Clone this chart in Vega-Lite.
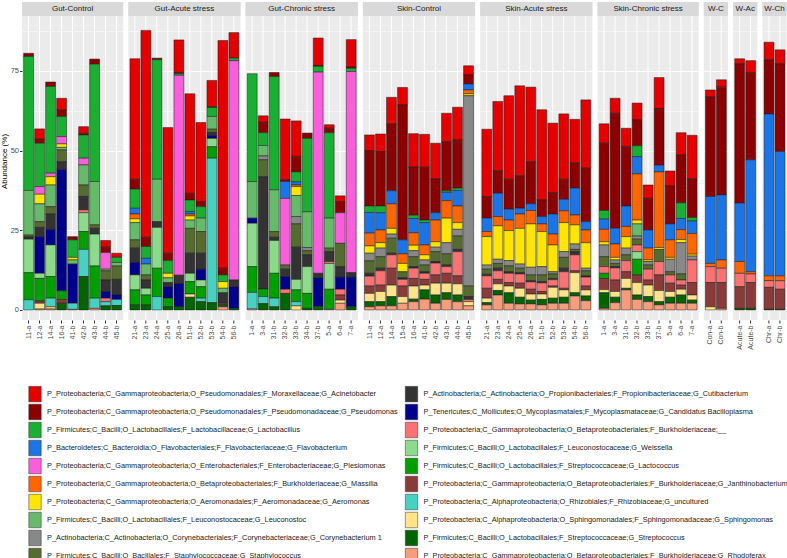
{
"$schema": "https://vega.github.io/schema/vega-lite/v6.json",
"padding": {"left": 0, "top": 2, "right": 0, "bottom": 0},
"datasets": {
"taxa": [
{"k":"Aci","r":1,"name":"P_Proteobacteria;C_Gammaproteobacteria;O_Pseudomonadales;F_Moraxellaceae;G_Acinetobacter"},
{"k":"Pse","r":2,"name":"P_Proteobacteria;C_Gammaproteobacteria;O_Pseudomonadales;F_Pseudomonadaceae;G_Pseudomonas"},
{"k":"Lac","r":3,"name":"P_Firmicutes;C_Bacilli;O_Lactobacillales;F_Lactobacillaceae;G_Lactobacillus"},
{"k":"Fla","r":4,"name":"P_Bacteroidetes;C_Bacteroidia;O_Flavobacteriales;F_Flavobacteriaceae;G_Flavobacterium"},
{"k":"Ple","r":5,"name":"P_Proteobacteria;C_Gammaproteobacteria;O_Enterobacteriales;F_Enterobacteriaceae;G_Plesiomonas"},
{"k":"Mas","r":6,"name":"P_Proteobacteria;C_Gammaproteobacteria;O_Betaproteobacteriales;F_Burkholderiaceae;G_Massilia"},
{"k":"Aer","r":7,"name":"P_Proteobacteria;C_Gammaproteobacteria;O_Aeromonadales;F_Aeromonadaceae;G_Aeromonas"},
{"k":"Leu","r":8,"name":"P_Firmicutes;C_Bacilli;O_Lactobacillales;F_Leuconostocaceae;G_Leuconostoc"},
{"k":"Cor","r":9,"name":"P_Actinobacteria;C_Actinobacteria;O_Corynebacteriales;F_Corynebacteriaceae;G_Corynebacterium 1"},
{"k":"Sta","r":10,"name":"P_Firmicutes;C_Bacilli;O_Bacillales;F_Staphylococcaceae;G_Staphylococcus"},
{"k":"Cut","r":11,"name":"P_Actinobacteria;C_Actinobacteria;O_Propionibacteriales;F_Propionibacteriaceae;G_Cutibacterium"},
{"k":"Cba","r":12,"name":"P_Tenericutes;C_Mollicutes;O_Mycoplasmatales;F_Mycoplasmataceae;G_Candidatus Bacilloplasma"},
{"k":"Bur","r":13,"name":"P_Proteobacteria;C_Gammaproteobacteria;O_Betaproteobacteriales;F_Burkholderiaceae;__"},
{"k":"Wei","r":14,"name":"P_Firmicutes;C_Bacilli;O_Lactobacillales;F_Leuconostocaceae;G_Weissella"},
{"k":"Lco","r":15,"name":"P_Firmicutes;C_Bacilli;O_Lactobacillales;F_Streptococcaceae;G_Lactococcus"},
{"k":"Jan","r":16,"name":"P_Proteobacteria;C_Gammaproteobacteria;O_Betaproteobacteriales;F_Burkholderiaceae;G_Janthinobacterium"},
{"k":"Rhi","r":17,"name":"P_Proteobacteria;C_Alphaproteobacteria;O_Rhizobiales;F_Rhizobiaceae;G_uncultured"},
{"k":"Sph","r":18,"name":"P_Proteobacteria;C_Alphaproteobacteria;O_Sphingomonadales;F_Sphingomonadaceae;G_Sphingomonas"},
{"k":"Str","r":19,"name":"P_Firmicutes;C_Bacilli;O_Lactobacillales;F_Streptococcaceae;G_Streptococcus"},
{"k":"Rho","r":20,"name":"P_Proteobacteria;C_Gammaproteobacteria;O_Betaproteobacteriales;F_Burkholderiaceae;G_Rhodoferax"}
],
"bars": [
{"p":"Gut-Control","s":"11-a","Rhi":3.2,"Lco":8.5,"Wei":10.5,"Cut":0.7,"Sta":0.6,"Leu":14,"Lac":42,"Pse":1.0},
{"p":"Gut-Control","s":"12-a","Rho":0.3,"Sph":1.8,"Jan":0.7,"Lco":7.1,"Wei":1.6,"Cba":11.5,"Cut":2.9,"Sta":1.8,"Leu":5.6,"Aer":3.0,"Ple":2.4,"Lac":13.6,"Pse":1.3,"Aci":3.2},
{"p":"Gut-Control","s":"14-a","Rho":0.3,"Sph":0.7,"Rhi":2.7,"Lco":6.8,"Wei":9.9,"Cba":4.9,"Cut":4.8,"Sta":2.3,"Leu":6.8,"Aer":2.6,"Ple":1.1,"Lac":27.2,"Pse":1.4},
{"p":"Gut-Control","s":"16-a","Str":2.1,"Jan":1.2,"Lco":2.7,"Cba":38.1,"Cut":2.4,"Sta":3.7,"Leu":0.8,"Aer":1.1,"Ple":2.3,"Lac":6.3,"Pse":2.1,"Aci":3.6},
{"p":"Gut-Control","s":"41-b","Rho":0.2,"Rhi":1.9,"Cba":12.3,"Leu":1.3,"Aer":0.8,"Lac":5.5,"Pse":1.0},
{"p":"Gut-Control","s":"42-b","Str":10.5,"Rhi":8.5,"Lco":5.6,"Wei":5.9,"Bur":0.9,"Cut":4.2,"Sta":3.6,"Leu":6.3,"Ple":2.1,"Lac":7.3,"Pse":0.5,"Aci":2.1},
{"p":"Gut-Control","s":"43-b","Rho":0.5,"Rhi":3.2,"Lco":10.1,"Wei":10.0,"Cut":1.8,"Sta":1.1,"Leu":13.6,"Lac":36.8,"Pse":1.6},
{"p":"Gut-Control","s":"44-b","Str":1.3,"Rhi":1.3,"Bur":1.1,"Cba":2.1,"Cut":3.6,"Sta":2.9,"Leu":0.5,"Ple":5.2,"Pse":1.7,"Aci":2.1},
{"p":"Gut-Control","s":"45-b","Str":1.4,"Rhi":1.9,"Cba":1.4,"Cut":4.9,"Sta":4.2,"Leu":1.1,"Lac":1.6,"Aci":1.3},
{"p":"Gut-Acute stress","s":"21-a","Str":1.6,"Lco":4.7,"Wei":4.7,"Cba":3.9,"Cut":4.5,"Sta":2.6,"Leu":5.4,"Aer":1.2,"Mas":1.5,"Fla":1.8,"Lac":6.0,"Pse":3.1,"Aci":37.8},
{"p":"Gut-Acute stress","s":"23-a","Str":1.6,"Lco":3.1,"Wei":2.1,"Cut":2.6,"Sta":1.6,"Leu":3.4,"Fla":1.8,"Lac":3.7,"Pse":2.9,"Aci":64.9},
{"p":"Gut-Acute stress","s":"24-a","Rhi":4.2,"Lco":8.9,"Wei":12.8,"Cut":1.8,"Leu":13.3,"Lac":37.5,"Pse":0.5},
{"p":"Gut-Acute stress","s":"25-a","Str":1.0,"Lco":2.7,"Cba":3.6,"Cut":1.3,"Leu":1.5,"Aer":1.4,"Lac":4.0,"Pse":2.3,"Aci":39.4},
{"p":"Gut-Acute stress","s":"26-a","Str":1.0,"Cba":7.3,"Cut":2.6,"Ple":62.7,"Lac":0.5,"Pse":0.4,"Aci":10.2},
{"p":"Gut-Acute stress","s":"51-b","Str":4.0,"Sph":1.0,"Lco":3.9,"Wei":2.6,"Cut":6.3,"Sta":7.8,"Leu":2.6,"Aer":1.3,"Mas":0.6,"Fla":0.8,"Lac":3.6,"Pse":2.1,"Aci":31.2},
{"p":"Gut-Acute stress","s":"52-b","Str":2.6,"Rhi":1.1,"Lco":3.6,"Wei":2.1,"Cba":3.4,"Cut":5.0,"Sta":6.8,"Leu":4.2,"Lac":3.6,"Pse":1.6,"Aci":24.8},
{"p":"Gut-Acute stress","s":"53-b","Str":2.3,"Rhi":45.3,"Lco":3.6,"Wei":2.6,"Cba":0.9,"Cut":1.0,"Sta":1.0,"Leu":4.0,"Lac":2.8,"Pse":0.3,"Aci":8.2},
{"p":"Gut-Acute stress","s":"54-b","Rho":1.0,"Str":0.6,"Jan":0.5,"Cut":3.3,"Leu":1.4,"Aer":2.1,"Lac":2.1,"Pse":2.1,"Aci":71.4},
{"p":"Gut-Acute stress","s":"56-b","Str":0.5,"Cba":6.8,"Cut":2.1,"Ple":68.8,"Lac":0.8,"Aci":8.0},
{"p":"Gut-Chronic stress","s":"1-a","Rho":0.3,"Rhi":5.2,"Lco":8.1,"Wei":13.6,"Cba":1.6,"Leu":11.5,"Lac":33.8},
{"p":"Gut-Chronic stress","s":"3-a","Str":2.0,"Rhi":2.2,"Lco":2.4,"Cut":35.2,"Sta":5.3,"Cor":1.2,"Leu":3.3,"Lac":4.0,"Pse":3.3,"Aci":2.0},
{"p":"Gut-Chronic stress","s":"31-b","Str":1.0,"Rhi":2.7,"Lco":7.8,"Wei":10.3,"Cut":1.0,"Sta":1.8,"Leu":13.1,"Lac":35.5,"Pse":1.3},
{"p":"Gut-Chronic stress","s":"32-b","Str":5.2,"Bur":1.3,"Cba":4.0,"Cut":2.3,"Sta":1.3,"Ple":20.9,"Fla":5.3,"Pse":0.5,"Aci":19.1},
{"p":"Gut-Chronic stress","s":"33-b","Sph":1.3,"Rhi":1.3,"Lco":3.7,"Wei":3.3,"Cut":10.1,"Sta":7.3,"Cor":2.3,"Leu":6.6,"Aer":2.8,"Mas":0.5,"Fla":1.0,"Lac":3.1,"Pse":4.9,"Aci":11.1},
{"p":"Gut-Chronic stress","s":"34-b","Str":0.5,"Lco":4.7,"Wei":8.4,"Cut":3.7,"Sta":1.3,"Cor":1.0,"Leu":11.2,"Lac":23.0,"Pse":1.7},
{"p":"Gut-Chronic stress","s":"37-b","Str":1.1,"Cba":9.0,"Cut":1.4,"Ple":63.1,"Lac":1.8,"Pse":0.3,"Aci":8.6},
{"p":"Gut-Chronic stress","s":"5-a","Rho":0.2,"Lco":6.3,"Wei":8.1,"Bur":0.6,"Cut":3.1,"Sta":1.1,"Leu":9.4,"Lac":26.8,"Pse":1.4,"Aci":1.1},
{"p":"Gut-Chronic stress","s":"6-a","Rho":2.1,"Sph":1.0,"Jan":1.6,"Bur":1.8,"Cba":3.8,"Cut":3.3,"Sta":7.3,"Ple":9.6,"Pse":3.5,"Aci":1.8},
{"p":"Gut-Chronic stress","s":"7-a","Str":1.0,"Cba":9.3,"Cut":1.4,"Ple":63.1,"Lac":1.0,"Pse":0.5,"Aci":8.5},
{"p":"Skin-Control","s":"11-a","Rho":1.0,"Str":1.6,"Sph":2.6,"Jan":2.3,"Bur":3.1,"Cut":0.9,"Sta":3.9,"Cor":2.4,"Aer":2.3,"Mas":4.0,"Fla":6.5,"Lac":2.0,"Pse":17.4,"Aci":4.9},
{"p":"Skin-Control","s":"12-a","Rho":1.3,"Str":1.3,"Sph":3.2,"Jan":2.0,"Bur":4.5,"Cut":0.8,"Sta":3.6,"Cor":2.7,"Aer":1.7,"Mas":4.0,"Fla":5.4,"Lac":2.1,"Pse":17.1,"Aci":5.5},
{"p":"Skin-Control","s":"14-a","Rho":1.3,"Str":2.9,"Sph":3.6,"Jan":5.3,"Bur":4.2,"Cut":0.5,"Sta":4.7,"Cor":1.3,"Aer":1.8,"Mas":7.7,"Fla":4.1,"Pse":21.0,"Aci":8.3},
{"p":"Skin-Control","s":"15-a","Rho":2.1,"Sph":2.1,"Jan":3.3,"Bur":2.1,"Cut":0.5,"Sta":1.9,"Aer":2.6,"Mas":3.0,"Fla":4.4,"Pse":42.3,"Aci":5.5},
{"p":"Skin-Control","s":"16-a","Rho":2.6,"Str":0.8,"Sph":4.1,"Jan":2.4,"Bur":3.2,"Cut":0.5,"Sta":3.1,"Cor":1.9,"Aer":1.7,"Mas":3.9,"Fla":4.5,"Lac":1.0,"Pse":15.2,"Aci":10.4},
{"p":"Skin-Control","s":"41-b","Rho":3.4,"Str":2.9,"Sph":1.5,"Jan":1.8,"Bur":1.9,"Cut":0.5,"Sta":2.1,"Cor":1.6,"Aer":1.6,"Mas":3.1,"Fla":7.0,"Lac":0.8,"Pse":16.6,"Aci":10.3},
{"p":"Skin-Control","s":"42-b","Rho":2.1,"Str":2.6,"Sph":3.7,"Jan":2.6,"Bur":3.7,"Cut":0.5,"Sta":3.1,"Cor":1.4,"Aer":1.7,"Mas":6.8,"Fla":2.3,"Pse":10.6,"Aci":11.2},
{"p":"Skin-Control","s":"43-b","Rho":3.3,"Str":2.1,"Sph":3.0,"Jan":3.1,"Bur":2.1,"Cut":0.5,"Sta":3.5,"Cor":3.5,"Aer":7.7,"Mas":5.5,"Fla":2.6,"Lac":0.5,"Pse":15.4,"Aci":8.9},
{"p":"Skin-Control","s":"44-b","Rho":2.6,"Str":2.1,"Sph":3.5,"Jan":2.5,"Bur":7.6,"Cut":0.7,"Sta":4.2,"Cor":2.1,"Aer":2.1,"Mas":5.2,"Fla":4.9,"Lac":0.7,"Pse":15.1,"Aci":10.3},
{"p":"Skin-Control","s":"45-b","Rho":1.3,"Sph":1.3,"Bur":0.7,"Cut":0.9,"Sta":3.3,"Cor":59.7,"Aer":0.6,"Mas":1.2,"Fla":1.9,"Pse":2.8,"Aci":2.9},
{"p":"Skin-Acute stress","s":"21-a","Rho":1.6,"Str":0.7,"Sph":1.4,"Jan":3.1,"Bur":3.9,"Cut":0.5,"Sta":1.6,"Cor":1.3,"Aer":8.9,"Mas":1.6,"Fla":4.2,"Pse":6.8,"Aci":21.1},
{"p":"Skin-Acute stress","s":"23-a","Rho":4.7,"Str":1.4,"Sph":2.1,"Jan":1.4,"Bur":2.7,"Cut":0.8,"Sta":1.5,"Cor":1.3,"Aer":10.5,"Mas":2.9,"Fla":7.3,"Pse":7.1,"Aci":21.7},
{"p":"Skin-Acute stress","s":"24-a","Rho":2.1,"Str":3.3,"Sph":2.1,"Jan":1.1,"Bur":2.9,"Cut":0.5,"Sta":1.8,"Cor":1.7,"Aer":9.4,"Mas":3.3,"Fla":3.4,"Pse":9.4,"Aci":26.2},
{"p":"Skin-Acute stress","s":"25-a","Rho":1.9,"Str":2.1,"Sph":2.8,"Jan":1.6,"Bur":2.9,"Cut":0.4,"Sta":1.4,"Cor":1.3,"Aer":11.2,"Mas":4.5,"Fla":1.8,"Pse":10.2,"Aci":28.2},
{"p":"Skin-Acute stress","s":"26-a","Rho":1.9,"Str":1.2,"Sph":1.9,"Jan":1.5,"Bur":2.3,"Cut":0.4,"Sta":1.8,"Cor":2.4,"Aer":13.6,"Mas":4.2,"Fla":2.1,"Pse":13.2,"Aci":23.4},
{"p":"Skin-Acute stress","s":"51-b","Rho":1.6,"Str":1.7,"Sph":1.7,"Jan":0.8,"Bur":2.7,"Cut":0.4,"Sta":2.1,"Cor":2.6,"Aer":11.0,"Mas":2.4,"Fla":2.3,"Pse":5.2,"Aci":28.3},
{"p":"Skin-Acute stress","s":"52-b","Rho":2.1,"Str":1.6,"Sph":3.4,"Jan":0.4,"Bur":2.0,"Cut":0.4,"Sta":1.4,"Cor":0.7,"Aer":8.4,"Mas":3.4,"Fla":6.3,"Pse":6.7,"Aci":21.8},
{"p":"Skin-Acute stress","s":"53-b","Rho":2.1,"Str":1.9,"Sph":2.3,"Jan":0.5,"Bur":5.2,"Cut":1.1,"Sta":3.4,"Cor":1.8,"Aer":9.1,"Mas":3.7,"Fla":3.6,"Pse":6.3,"Aci":20.5},
{"p":"Skin-Acute stress","s":"54-b","Rho":4.4,"Str":1.0,"Sph":6.3,"Jan":0.6,"Bur":5.0,"Cut":1.0,"Sta":0.7,"Cor":1.7,"Aer":6.0,"Mas":3.1,"Fla":8.4,"Pse":8.0,"Aci":13.6},
{"p":"Skin-Acute stress","s":"56-b","Rho":2.9,"Str":1.5,"Sph":1.9,"Jan":1.2,"Bur":2.8,"Cut":0.4,"Sta":1.6,"Cor":0.8,"Aer":8.0,"Mas":4.0,"Fla":2.6,"Pse":16.8,"Aci":21.4},
{"p":"Skin-Chronic stress","s":"1-a","Rho":0.5,"Str":4.9,"Sph":1.0,"Jan":3.5,"Lco":1.6,"Bur":2.1,"Sta":3.1,"Cor":3.7,"Aer":1.0,"Mas":3.9,"Fla":3.2,"Lac":2.7,"Pse":21.1,"Aci":6.1},
{"p":"Skin-Chronic stress","s":"3-a","Rho":2.3,"Str":1.7,"Sph":1.8,"Jan":3.6,"Bur":3.8,"Cut":0.4,"Sta":1.0,"Cor":1.1,"Aer":0.8,"Mas":4.2,"Fla":4.9,"Pse":36.1,"Aci":4.7},
{"p":"Skin-Chronic stress","s":"31-b","Rho":6.3,"Str":0.5,"Sph":3.1,"Jan":2.1,"Bur":3.5,"Sta":1.8,"Cor":2.1,"Aer":3.6,"Mas":3.2,"Fla":6.4,"Pse":18.7,"Aci":5.7},
{"p":"Skin-Chronic stress","s":"32-b","Rho":3.3,"Str":1.4,"Sph":3.9,"Jan":2.4,"Lco":4.9,"Wei":2.4,"Bur":2.1,"Sta":1.8,"Cor":1.0,"Leu":3.8,"Aer":1.2,"Mas":14.5,"Fla":5.4,"Lac":3.4,"Pse":8.1,"Aci":5.3},
{"p":"Skin-Chronic stress","s":"33-b","Rho":2.6,"Str":1.6,"Sph":3.6,"Jan":1.6,"Bur":3.4,"Sta":1.3,"Cor":1.1,"Aer":0.5,"Mas":3.7,"Fla":5.7,"Pse":9.9,"Aci":4.2},
{"p":"Skin-Chronic stress","s":"37-b","Rho":1.6,"Str":1.0,"Sph":3.5,"Jan":4.9,"Bur":4.2,"Sta":3.8,"Aer":0.6,"Mas":23.7,"Fla":2.1,"Pse":17.8,"Aci":9.7},
{"p":"Skin-Chronic stress","s":"5-a","Rho":2.1,"Str":1.9,"Sph":1.8,"Jan":2.6,"Bur":2.6,"Sta":1.0,"Cor":3.9,"Aer":0.6,"Mas":5.5,"Fla":5.0,"Pse":11.9,"Aci":4.7},
{"p":"Skin-Chronic stress","s":"6-a","Rho":2.1,"Str":2.6,"Sph":1.8,"Jan":1.3,"Bur":1.6,"Sta":1.9,"Cor":9.8,"Aer":1.0,"Mas":3.1,"Fla":3.5,"Lac":4.9,"Pse":15.0,"Aci":7.0},
{"p":"Skin-Chronic stress","s":"7-a","Rho":2.1,"Str":1.0,"Sph":1.6,"Jan":3.9,"Bur":7.1,"Cor":1.2,"Aer":0.6,"Mas":6.5,"Fla":3.9,"Lac":1.1,"Pse":12.2,"Aci":13.6},
{"p":"W-C","s":"Con-a","Sph":1.0,"Jan":7.6,"Bur":5.0,"Mas":1.0,"Fla":21.0,"Pse":31.3,"Aci":2.1},
{"p":"W-C","s":"Con-b","Rho":0.5,"Jan":8.1,"Bur":4.5,"Mas":2.6,"Fla":20.4,"Pse":33.8,"Aci":2.3},
{"p":"W-Ac","s":"Acute-a","Str":0.5,"Jan":6.8,"Bur":4.2,"Mas":3.7,"Fla":18.3,"Pse":43.7,"Aci":1.6},
{"p":"W-Ac","s":"Acute-b","Str":0.5,"Jan":8.1,"Bur":2.7,"Mas":0.7,"Fla":35.1,"Pse":27.4,"Aci":3.7},
{"p":"W-Ch","s":"Chr-a","Str":0.2,"Jan":6.9,"Bur":2.1,"Mas":1.5,"Fla":50.8,"Pse":17.0,"Aci":5.5},
{"p":"W-Ch","s":"Chr-b","Str":0.2,"Jan":6.3,"Bur":2.7,"Mas":1.5,"Fla":39.0,"Pse":27.5,"Aci":4.4}
]
},
"data": {"name": "bars"},
"transform": [
{"fold": ["Aci","Pse","Lac","Fla","Ple","Mas","Aer","Leu","Cor","Sta","Cut","Cba","Bur","Wei","Lco","Jan","Rhi","Sph","Str","Rho"], "as": ["k","v"]},
{"filter": "isValid(datum.v) && datum.v > 0"},
{"lookup": "k", "from": {"data": {"name": "taxa"}, "key": "k", "fields": ["name","r"]}}
],
"spacing": 4.3,
"resolve": {"scale": {"x": "independent", "y": "independent"}, "axis": {"x": "independent", "y": "independent"}},
"hconcat": [
{"width": 101.2, "height": 318, "transform": [{"filter": "datum.p === 'Gut-Control'"}], "layer": [
 {"mark": {"type": "bar", "stroke": "#1a1a1a", "strokeWidth": 0.5}, "encoding": {
  "x": {"field": "s", "type": "nominal", "scale": {"paddingInner": 0.1, "paddingOuter": 0.15}},
  "y": {"field": "v", "type": "quantitative", "stack": "zero", "scale": {"domain": [-3.14, 96.6], "nice": false, "zero": false},
        "axis": {"title": "Abundance (%)", "titleFontSize": 8, "titleFontWeight": "normal", "titleColor": "#000000", "titlePadding": 2,
                 "values": [0,12.5,25,37.5,50,62.5,75,87.5], "labelExpr": "datum.value % 25 === 0 ? datum.label : ''",
                 "labelFontSize": 7.5, "labelColor": "#4D4D4D", "labelPadding": 1, "tickColor": "#333333", "tickSize": 2.5,
                 "tickOpacity": {"condition": {"test": "datum.value % 25 === 0", "value": 1}, "value": 0},
                 "domain": false, "grid": true, "gridColor": "#FFFFFF",
                 "gridWidth": {"condition": {"test": "datum.value % 25 === 0", "value": 1.1}, "value": 0.5}}},
  "color": {"field": "name", "type": "nominal",
   "scale": {
    "domain": [
"P_Proteobacteria;C_Gammaproteobacteria;O_Pseudomonadales;F_Moraxellaceae;G_Acinetobacter",
"P_Proteobacteria;C_Gammaproteobacteria;O_Pseudomonadales;F_Pseudomonadaceae;G_Pseudomonas",
"P_Firmicutes;C_Bacilli;O_Lactobacillales;F_Lactobacillaceae;G_Lactobacillus",
"P_Bacteroidetes;C_Bacteroidia;O_Flavobacteriales;F_Flavobacteriaceae;G_Flavobacterium",
"P_Proteobacteria;C_Gammaproteobacteria;O_Enterobacteriales;F_Enterobacteriaceae;G_Plesiomonas",
"P_Proteobacteria;C_Gammaproteobacteria;O_Betaproteobacteriales;F_Burkholderiaceae;G_Massilia",
"P_Proteobacteria;C_Gammaproteobacteria;O_Aeromonadales;F_Aeromonadaceae;G_Aeromonas",
"P_Firmicutes;C_Bacilli;O_Lactobacillales;F_Leuconostocaceae;G_Leuconostoc",
"P_Actinobacteria;C_Actinobacteria;O_Corynebacteriales;F_Corynebacteriaceae;G_Corynebacterium 1",
"P_Firmicutes;C_Bacilli;O_Bacillales;F_Staphylococcaceae;G_Staphylococcus",
"P_Actinobacteria;C_Actinobacteria;O_Propionibacteriales;F_Propionibacteriaceae;G_Cutibacterium",
"P_Tenericutes;C_Mollicutes;O_Mycoplasmatales;F_Mycoplasmataceae;G_Candidatus Bacilloplasma",
"P_Proteobacteria;C_Gammaproteobacteria;O_Betaproteobacteriales;F_Burkholderiaceae;__",
"P_Firmicutes;C_Bacilli;O_Lactobacillales;F_Leuconostocaceae;G_Weissella",
"P_Firmicutes;C_Bacilli;O_Lactobacillales;F_Streptococcaceae;G_Lactococcus",
"P_Proteobacteria;C_Gammaproteobacteria;O_Betaproteobacteriales;F_Burkholderiaceae;G_Janthinobacterium",
"P_Proteobacteria;C_Alphaproteobacteria;O_Rhizobiales;F_Rhizobiaceae;G_uncultured",
"P_Proteobacteria;C_Alphaproteobacteria;O_Sphingomonadales;F_Sphingomonadaceae;G_Sphingomonas",
"P_Firmicutes;C_Bacilli;O_Lactobacillales;F_Streptococcaceae;G_Streptococcus",
"P_Proteobacteria;C_Gammaproteobacteria;O_Betaproteobacteriales;F_Burkholderiaceae;G_Rhodoferax"
    ],
    "range": ["#E50000","#8B0000","#1AAF32","#1C75E6","#FA5FDB","#FF6600","#FFE500","#66BB6A","#888888","#556B2F","#333333","#00008B","#FA7272","#8BDB8B","#00A000","#8B3A3A","#48D1C1","#FFE38A","#006400","#F89C7C"]}},
  "order": {"field": "r", "type": "quantitative", "sort": "descending"}}},
 {"transform": [{"aggregate": [{"op": "count", "as": "n"}], "groupby": ["p"]}], "mark": {"type": "rect", "fill": "#D9D9D9"}, "encoding": {"y": {"datum": 92.2}, "y2": {"datum": 96.6}}},
 {"transform": [{"aggregate": [{"op": "count", "as": "n"}], "groupby": ["p"]}], "mark": {"type": "text", "fontSize": 8, "color": "#1A1A1A"}, "encoding": {"y": {"datum": 94.4}, "text": {"field": "p"}}}
]},
{"width": 112.2, "height": 318, "transform": [{"filter": "datum.p === 'Gut-Acute stress'"}], "layer": [
 {"mark": {"type": "bar", "stroke": "#1a1a1a", "strokeWidth": 0.5}, "encoding": {
  "x": {"field": "s", "type": "nominal", "scale": {"paddingInner": 0.1, "paddingOuter": 0.15}},
  "y": {"field": "v", "type": "quantitative", "stack": "zero", "scale": {"domain": [-3.14, 96.6], "nice": false, "zero": false},
        "axis": {"title": null, "labels": false, "ticks": false, "domain": false, "values": [0,12.5,25,37.5,50,62.5,75,87.5], "grid": true, "gridColor": "#FFFFFF",
                 "gridWidth": {"condition": {"test": "datum.value % 25 === 0", "value": 1.1}, "value": 0.5}}},
  "color": {"field": "name", "type": "nominal"},
  "order": {"field": "r", "type": "quantitative", "sort": "descending"}}},
 {"transform": [{"aggregate": [{"op": "count", "as": "n"}], "groupby": ["p"]}], "mark": {"type": "rect", "fill": "#D9D9D9"}, "encoding": {"y": {"datum": 92.2}, "y2": {"datum": 96.6}}},
 {"transform": [{"aggregate": [{"op": "count", "as": "n"}], "groupby": ["p"]}], "mark": {"type": "text", "fontSize": 8, "color": "#1A1A1A"}, "encoding": {"y": {"datum": 94.4}, "text": {"field": "p"}}}
]},
{"width": 112.2, "height": 318, "transform": [{"filter": "datum.p === 'Gut-Chronic stress'"}], "layer": [
 {"mark": {"type": "bar", "stroke": "#1a1a1a", "strokeWidth": 0.5}, "encoding": {
  "x": {"field": "s", "type": "nominal", "scale": {"paddingInner": 0.1, "paddingOuter": 0.15}},
  "y": {"field": "v", "type": "quantitative", "stack": "zero", "scale": {"domain": [-3.14, 96.6], "nice": false, "zero": false},
        "axis": {"title": null, "labels": false, "ticks": false, "domain": false, "values": [0,12.5,25,37.5,50,62.5,75,87.5], "grid": true, "gridColor": "#FFFFFF",
                 "gridWidth": {"condition": {"test": "datum.value % 25 === 0", "value": 1.1}, "value": 0.5}}},
  "color": {"field": "name", "type": "nominal"},
  "order": {"field": "r", "type": "quantitative", "sort": "descending"}}},
 {"transform": [{"aggregate": [{"op": "count", "as": "n"}], "groupby": ["p"]}], "mark": {"type": "rect", "fill": "#D9D9D9"}, "encoding": {"y": {"datum": 92.2}, "y2": {"datum": 96.6}}},
 {"transform": [{"aggregate": [{"op": "count", "as": "n"}], "groupby": ["p"]}], "mark": {"type": "text", "fontSize": 8, "color": "#1A1A1A"}, "encoding": {"y": {"datum": 94.4}, "text": {"field": "p"}}}
]},
{"width": 112.2, "height": 318, "transform": [{"filter": "datum.p === 'Skin-Control'"}], "layer": [
 {"mark": {"type": "bar", "stroke": "#1a1a1a", "strokeWidth": 0.5}, "encoding": {
  "x": {"field": "s", "type": "nominal", "scale": {"paddingInner": 0.1, "paddingOuter": 0.15}},
  "y": {"field": "v", "type": "quantitative", "stack": "zero", "scale": {"domain": [-3.14, 96.6], "nice": false, "zero": false},
        "axis": {"title": null, "labels": false, "ticks": false, "domain": false, "values": [0,12.5,25,37.5,50,62.5,75,87.5], "grid": true, "gridColor": "#FFFFFF",
                 "gridWidth": {"condition": {"test": "datum.value % 25 === 0", "value": 1.1}, "value": 0.5}}},
  "color": {"field": "name", "type": "nominal"},
  "order": {"field": "r", "type": "quantitative", "sort": "descending"}}},
 {"transform": [{"aggregate": [{"op": "count", "as": "n"}], "groupby": ["p"]}], "mark": {"type": "rect", "fill": "#D9D9D9"}, "encoding": {"y": {"datum": 92.2}, "y2": {"datum": 96.6}}},
 {"transform": [{"aggregate": [{"op": "count", "as": "n"}], "groupby": ["p"]}], "mark": {"type": "text", "fontSize": 8, "color": "#1A1A1A"}, "encoding": {"y": {"datum": 94.4}, "text": {"field": "p"}}}
]},
{"width": 112.2, "height": 318, "transform": [{"filter": "datum.p === 'Skin-Acute stress'"}], "layer": [
 {"mark": {"type": "bar", "stroke": "#1a1a1a", "strokeWidth": 0.5}, "encoding": {
  "x": {"field": "s", "type": "nominal", "scale": {"paddingInner": 0.1, "paddingOuter": 0.15}},
  "y": {"field": "v", "type": "quantitative", "stack": "zero", "scale": {"domain": [-3.14, 96.6], "nice": false, "zero": false},
        "axis": {"title": null, "labels": false, "ticks": false, "domain": false, "values": [0,12.5,25,37.5,50,62.5,75,87.5], "grid": true, "gridColor": "#FFFFFF",
                 "gridWidth": {"condition": {"test": "datum.value % 25 === 0", "value": 1.1}, "value": 0.5}}},
  "color": {"field": "name", "type": "nominal"},
  "order": {"field": "r", "type": "quantitative", "sort": "descending"}}},
 {"transform": [{"aggregate": [{"op": "count", "as": "n"}], "groupby": ["p"]}], "mark": {"type": "rect", "fill": "#D9D9D9"}, "encoding": {"y": {"datum": 92.2}, "y2": {"datum": 96.6}}},
 {"transform": [{"aggregate": [{"op": "count", "as": "n"}], "groupby": ["p"]}], "mark": {"type": "text", "fontSize": 8, "color": "#1A1A1A"}, "encoding": {"y": {"datum": 94.4}, "text": {"field": "p"}}}
]},
{"width": 101.2, "height": 318, "transform": [{"filter": "datum.p === 'Skin-Chronic stress'"}], "layer": [
 {"mark": {"type": "bar", "stroke": "#1a1a1a", "strokeWidth": 0.5}, "encoding": {
  "x": {"field": "s", "type": "nominal", "scale": {"paddingInner": 0.1, "paddingOuter": 0.15}},
  "y": {"field": "v", "type": "quantitative", "stack": "zero", "scale": {"domain": [-3.14, 96.6], "nice": false, "zero": false},
        "axis": {"title": null, "labels": false, "ticks": false, "domain": false, "values": [0,12.5,25,37.5,50,62.5,75,87.5], "grid": true, "gridColor": "#FFFFFF",
                 "gridWidth": {"condition": {"test": "datum.value % 25 === 0", "value": 1.1}, "value": 0.5}}},
  "color": {"field": "name", "type": "nominal"},
  "order": {"field": "r", "type": "quantitative", "sort": "descending"}}},
 {"transform": [{"aggregate": [{"op": "count", "as": "n"}], "groupby": ["p"]}], "mark": {"type": "rect", "fill": "#D9D9D9"}, "encoding": {"y": {"datum": 92.2}, "y2": {"datum": 96.6}}},
 {"transform": [{"aggregate": [{"op": "count", "as": "n"}], "groupby": ["p"]}], "mark": {"type": "text", "fontSize": 8, "color": "#1A1A1A"}, "encoding": {"y": {"datum": 94.4}, "text": {"field": "p"}}}
]},
{"width": 24.2, "height": 318, "transform": [{"filter": "datum.p === 'W-C'"}], "layer": [
 {"mark": {"type": "bar", "stroke": "#1a1a1a", "strokeWidth": 0.5}, "encoding": {
  "x": {"field": "s", "type": "nominal", "scale": {"paddingInner": 0.1, "paddingOuter": 0.15}},
  "y": {"field": "v", "type": "quantitative", "stack": "zero", "scale": {"domain": [-3.14, 96.6], "nice": false, "zero": false},
        "axis": {"title": null, "labels": false, "ticks": false, "domain": false, "values": [0,12.5,25,37.5,50,62.5,75,87.5], "grid": true, "gridColor": "#FFFFFF",
                 "gridWidth": {"condition": {"test": "datum.value % 25 === 0", "value": 1.1}, "value": 0.5}}},
  "color": {"field": "name", "type": "nominal"},
  "order": {"field": "r", "type": "quantitative", "sort": "descending"}}},
 {"transform": [{"aggregate": [{"op": "count", "as": "n"}], "groupby": ["p"]}], "mark": {"type": "rect", "fill": "#D9D9D9"}, "encoding": {"y": {"datum": 92.2}, "y2": {"datum": 96.6}}},
 {"transform": [{"aggregate": [{"op": "count", "as": "n"}], "groupby": ["p"]}], "mark": {"type": "text", "fontSize": 8, "color": "#1A1A1A"}, "encoding": {"y": {"datum": 94.4}, "text": {"field": "p"}}}
]},
{"width": 24.2, "height": 318, "transform": [{"filter": "datum.p === 'W-Ac'"}], "layer": [
 {"mark": {"type": "bar", "stroke": "#1a1a1a", "strokeWidth": 0.5}, "encoding": {
  "x": {"field": "s", "type": "nominal", "scale": {"paddingInner": 0.1, "paddingOuter": 0.15}},
  "y": {"field": "v", "type": "quantitative", "stack": "zero", "scale": {"domain": [-3.14, 96.6], "nice": false, "zero": false},
        "axis": {"title": null, "labels": false, "ticks": false, "domain": false, "values": [0,12.5,25,37.5,50,62.5,75,87.5], "grid": true, "gridColor": "#FFFFFF",
                 "gridWidth": {"condition": {"test": "datum.value % 25 === 0", "value": 1.1}, "value": 0.5}}},
  "color": {"field": "name", "type": "nominal"},
  "order": {"field": "r", "type": "quantitative", "sort": "descending"}}},
 {"transform": [{"aggregate": [{"op": "count", "as": "n"}], "groupby": ["p"]}], "mark": {"type": "rect", "fill": "#D9D9D9"}, "encoding": {"y": {"datum": 92.2}, "y2": {"datum": 96.6}}},
 {"transform": [{"aggregate": [{"op": "count", "as": "n"}], "groupby": ["p"]}], "mark": {"type": "text", "fontSize": 8, "color": "#1A1A1A"}, "encoding": {"y": {"datum": 94.4}, "text": {"field": "p"}}}
]},
{"width": 24.2, "height": 318, "transform": [{"filter": "datum.p === 'W-Ch'"}], "layer": [
 {"mark": {"type": "bar", "stroke": "#1a1a1a", "strokeWidth": 0.5}, "encoding": {
  "x": {"field": "s", "type": "nominal", "scale": {"paddingInner": 0.1, "paddingOuter": 0.15}},
  "y": {"field": "v", "type": "quantitative", "stack": "zero", "scale": {"domain": [-3.14, 96.6], "nice": false, "zero": false},
        "axis": {"title": null, "labels": false, "ticks": false, "domain": false, "values": [0,12.5,25,37.5,50,62.5,75,87.5], "grid": true, "gridColor": "#FFFFFF",
                 "gridWidth": {"condition": {"test": "datum.value % 25 === 0", "value": 1.1}, "value": 0.5}}},
  "color": {"field": "name", "type": "nominal"},
  "order": {"field": "r", "type": "quantitative", "sort": "descending"}}},
 {"transform": [{"aggregate": [{"op": "count", "as": "n"}], "groupby": ["p"]}], "mark": {"type": "rect", "fill": "#D9D9D9"}, "encoding": {"y": {"datum": 92.2}, "y2": {"datum": 96.6}}},
 {"transform": [{"aggregate": [{"op": "count", "as": "n"}], "groupby": ["p"]}], "mark": {"type": "text", "fontSize": 8, "color": "#1A1A1A"}, "encoding": {"y": {"datum": 94.4}, "text": {"field": "p"}}}
]}
],
"config": {
 "font": "Liberation Sans",
 "view": {"fill": "#EBEBEB", "stroke": null},
 "axisX": {"title": null, "labelAngle": 270, "labelFontSize": 7, "labelColor": "#4D4D4D", "tickColor": "#333333", "tickSize": 3, "domain": false, "grid": true, "gridColor": "#FFFFFF", "gridWidth": 1, "bandPosition": 0.5, "labelPadding": 2},
 "legend": {"orient": "none", "legendX": 5, "legendY": 384, "columns": 2, "title": null,
   "symbolType": "M-0.8,-1H0.8V1H-0.8Z", "symbolSize": 240, "symbolStrokeColor": "#333333", "symbolStrokeWidth": 0.5, "symbolOpacity": 1,
   "labelFontSize": 7.35, "labelLimit": 420, "labelColor": "#1A1A1A", "rowPadding": 0, "columnPadding": 5.5, "labelOffset": 4}
}
}
